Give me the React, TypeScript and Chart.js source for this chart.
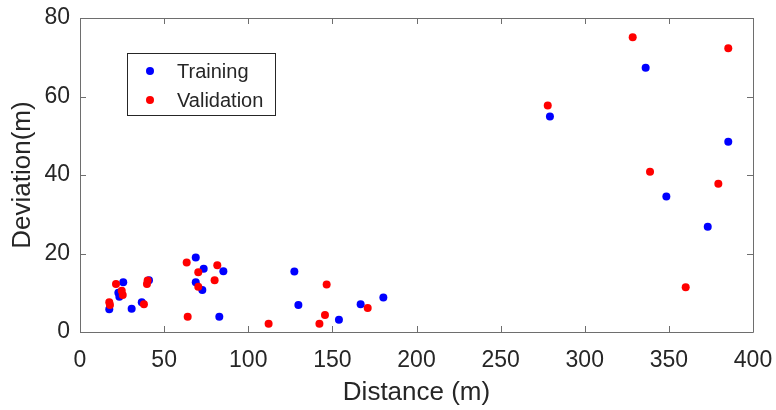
import React, { useEffect, useRef } from "react";
import { Chart, registerables } from "chart.js";

Chart.register(...registerables);

const trainingX = [17.4, 25.7, 22.8, 23.4, 30.7, 36.7, 41, 68.8, 73.5, 85.2, 68.8, 72.7, 82.8, 127.4, 129.8, 153.9, 166.8, 180.3, 336.2, 279.3, 385.3, 348.5, 373.1];
const trainingY = [5.8, 12.7, 10.0, 9.0, 5.9, 7.6, 13.2, 19.0, 16.1, 15.5, 12.7, 10.7, 3.9, 15.4, 6.9, 3.1, 7.1, 8.8, 67.3, 54.9, 48.5, 34.5, 26.8];

const validationX = [17.4, 17.8, 21.4, 24.8, 25.4, 38, 40.2, 39.8, 63.4, 70.3, 70.3, 81.6, 80.0, 64.0, 112.1, 146.6, 145.6, 142.3, 171.0, 328.5, 385.3, 278.0, 338.8, 379.4, 360.0];
const validationY = [7.6, 6.9, 12.2, 10.5, 9.4, 7.1, 13.1, 12.2, 17.7, 15.2, 11.5, 17.0, 13.2, 3.9, 2.1, 12.1, 4.3, 2.1, 6.1, 75.1, 72.3, 57.7, 40.8, 37.8, 11.4];

const seriesLabels = ["Training", "Validation"];
const xTitle = "Distance (m)";
const yTitle = "Deviation(m)";

const FONT = "'Liberation Sans', Arial, Helvetica, sans-serif";
const TEXT = "#262626";
const AXIS = "#6e6e6e";

const boxPlugin = {
  id: "matlabBox",
  afterDraw(chart: any) {
    const { ctx, chartArea } = chart;
    const { left, right, top, bottom } = chartArea;
    const xs = chart.scales.x;
    const ys = chart.scales.y;
    ctx.save();
    ctx.strokeStyle = AXIS;
    ctx.lineWidth = 1;
    ctx.beginPath();
    ctx.rect(Math.round(left) + 0.5, Math.round(top) + 0.5, Math.round(right - left), Math.round(bottom - top));
    ctx.stroke();
    const tl = 6;
    ctx.beginPath();
    xs.ticks.forEach((t: any) => {
      const px = Math.round(xs.getPixelForValue(t.value)) + 0.5;
      ctx.moveTo(px, bottom);
      ctx.lineTo(px, bottom - tl);
      ctx.moveTo(px, top);
      ctx.lineTo(px, top + tl);
    });
    ys.ticks.forEach((t: any) => {
      const py = Math.round(ys.getPixelForValue(t.value)) + 0.5;
      ctx.moveTo(left, py);
      ctx.lineTo(left + tl, py);
      ctx.moveTo(right, py);
      ctx.lineTo(right - tl, py);
    });
    ctx.stroke();

    // legend inside plot
    const lx = left + 47;
    const ly = top + 35;
    const lw = 148;
    const lh = 62;
    ctx.fillStyle = "#ffffff";
    ctx.fillRect(lx, ly, lw, lh);
    ctx.strokeStyle = TEXT;
    ctx.strokeRect(Math.round(lx) + 0.5, Math.round(ly) + 0.5, lw, lh);
    ctx.font = `20px ${FONT}`;
    ctx.textBaseline = "middle";
    ctx.textAlign = "left";
    chart.data.datasets.forEach((ds: any, i: number) => {
      const cy = ly + 18 + i * 29;
      ctx.fillStyle = ds.backgroundColor;
      ctx.beginPath();
      ctx.arc(lx + 23, cy, 4, 0, Math.PI * 2);
      ctx.fill();
      ctx.fillStyle = TEXT;
      ctx.fillText(ds.label, lx + 50, cy + 1);
    });
    ctx.restore();
  },
};

export default function App() {
  const ref = useRef<HTMLCanvasElement>(null);
  useEffect(() => {
    document.body.style.margin = "0";
    const toPts = (xs: number[], ys: number[]) => xs.map((x, i) => ({ x, y: ys[i] }));
    const chart = new Chart(ref.current!, {
      type: "scatter",
      data: {
        datasets: [
          {
            label: seriesLabels[0],
            data: toPts(trainingX, trainingY),
            backgroundColor: "#0000ff",
            borderWidth: 0,
            pointRadius: 4,
            order: 2,
          },
          {
            label: seriesLabels[1],
            data: toPts(validationX, validationY),
            backgroundColor: "#ff0000",
            borderWidth: 0,
            pointRadius: 4,
            order: 1,
          },
        ],
      },
      options: {
        animation: false,
        responsive: false,
        maintainAspectRatio: false,
        layout: { padding: { top: 18, right: 23, left: 0, bottom: 0 } },
        plugins: { legend: { display: false }, tooltip: { enabled: false } },
        scales: {
          x: {
            type: "linear",
            min: 0,
            max: 400,
            grid: { display: false, drawTicks: false },
            border: { display: false },
            ticks: { stepSize: 50, color: TEXT, font: { family: FONT, size: 23 }, padding: 15, maxRotation: 0 },
            title: { display: true, text: xTitle, color: TEXT, font: { family: FONT, size: 26 }, padding: { top: 0, bottom: 2 } },
            afterFit: (s: any) => {
              s.height = 78;
              s.paddingLeft = 0;
              s.paddingRight = 0;
              s.paddingTop = 0;
              s.paddingBottom = 0;
            },
          },
          y: {
            type: "linear",
            min: 0,
            max: 80,
            grid: { display: false, drawTicks: false },
            border: { display: false },
            ticks: { stepSize: 20, color: TEXT, font: { family: FONT, size: 23 }, padding: 10 },
            title: { display: true, text: yTitle, color: TEXT, font: { family: FONT, size: 26 }, padding: { top: 7, bottom: 0 } },
            afterFit: (s: any) => {
              s.width = 80;
              s.paddingLeft = 0;
              s.paddingRight = 0;
              s.paddingTop = 0;
              s.paddingBottom = 0;
            },
          },
        },
      },
      plugins: [boxPlugin],
    });
    return () => chart.destroy();
  }, []);
  return (
    <div style={{ width: 776, height: 410 }}>
      <canvas ref={ref} width={776} height={410} />
    </div>
  );
}
